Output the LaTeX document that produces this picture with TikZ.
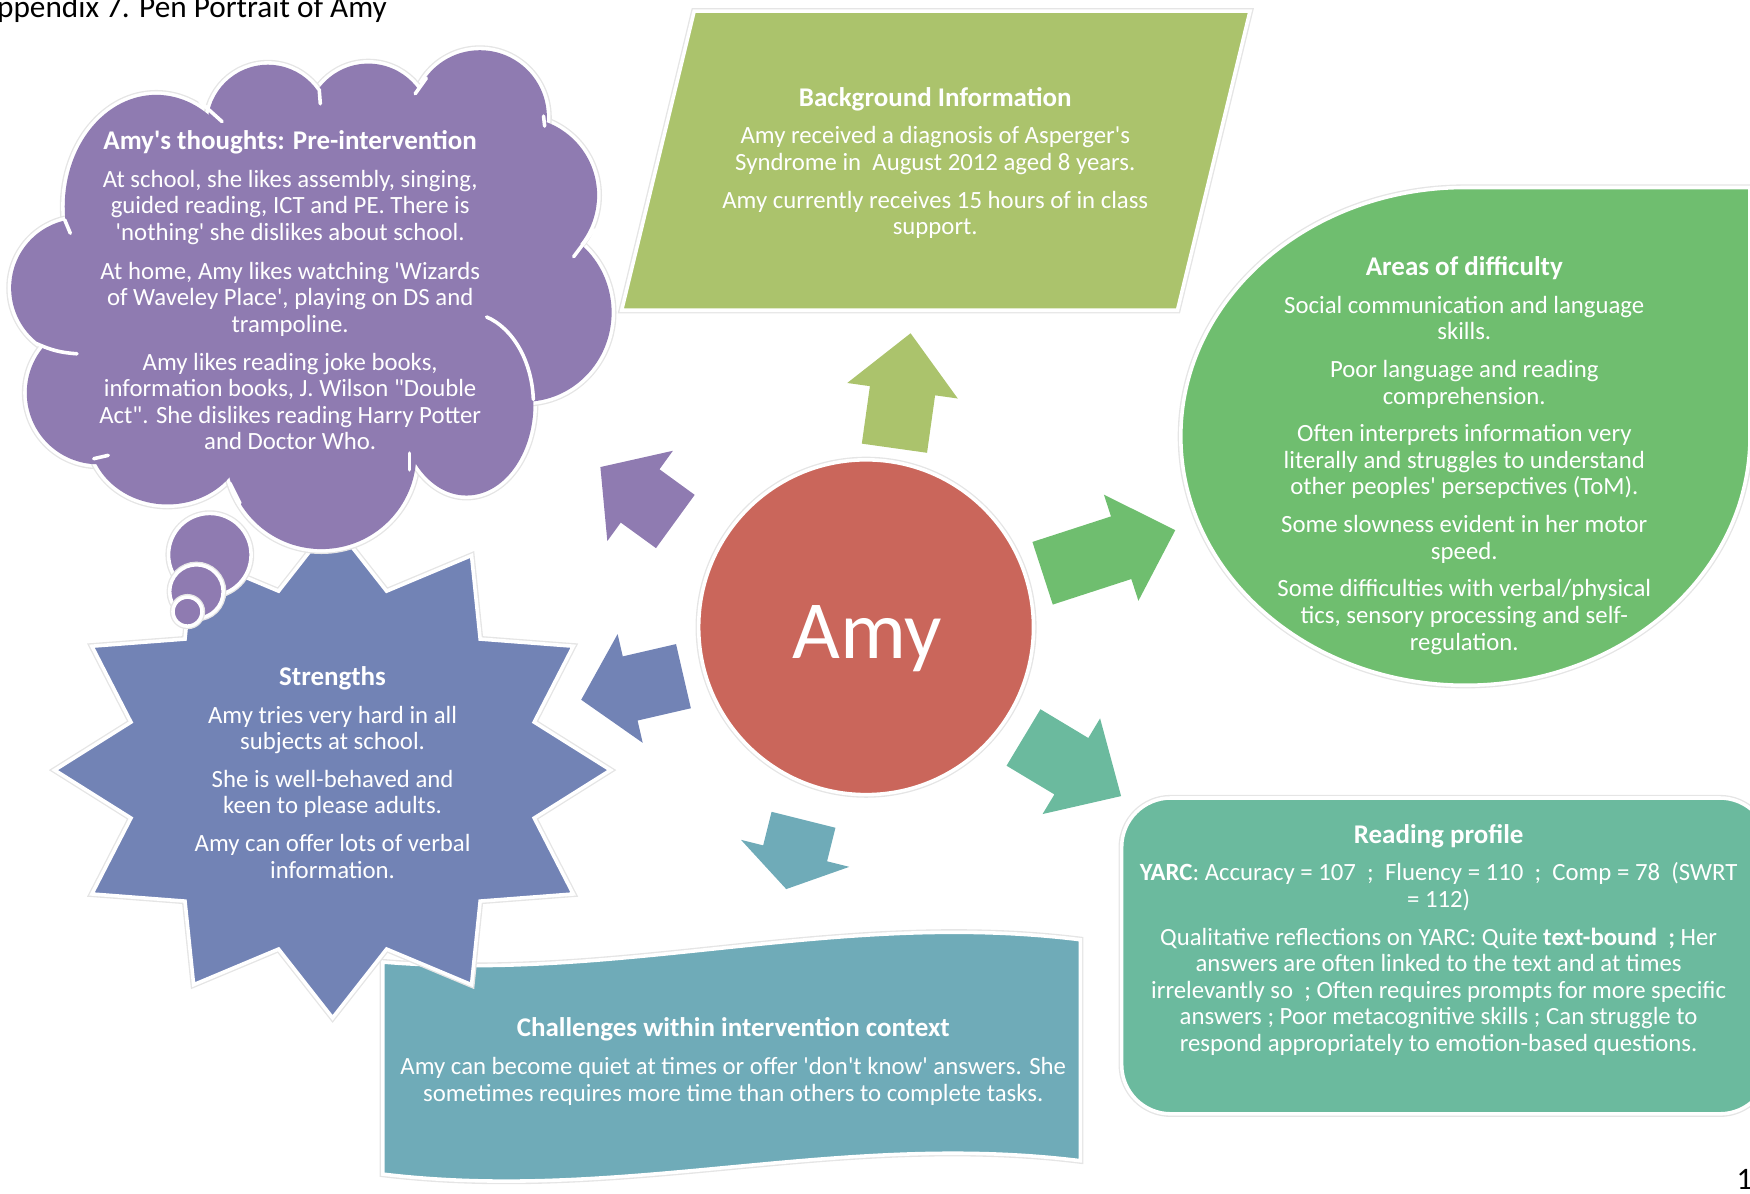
\documentclass[tikz,border=0pt]{standalone}
\usepackage{fontspec}
\setmainfont{Carlito}[Ligatures=TeXOff]
\usetikzlibrary{calc}

\definecolor{thoughtpurple}{HTML}{8F7BB1}
\definecolor{strengthblue}{HTML}{7283B5}
\definecolor{bgolive}{HTML}{ABC36C}
\definecolor{diffgreen}{HTML}{6FBE6F}
\definecolor{readteal}{HTML}{6BBA9E}
\definecolor{challteal}{HTML}{6FABB8}
\definecolor{amyred}{HTML}{CA665B}

\tikzset{
    outline/.style={preaction={draw=black!10, line width=2.8pt}, draw=white, line width=1.6pt},
    infotext/.style={text=white, align=center, inner sep=0pt, font=\fontsize{11.1}{11.9}\selectfont},
    crease/.style={draw=white, line width=1.6pt, line cap=round},
}
\newcommand{\boxtitle}[1]{{\fontsize{12.1}{11.9}\selectfont\bfseries #1}}
% cloud lobes: centre x / centre y / x radius / y radius
\newcommand{\thoughtlobes}{140/185/82/100, 72/258/62/62, 88/352/64/64, 150/390/70/62,
    288/407/85/85, 418/362/60/82, 470/280/78/80, 465/175/70/70, 430/105/60/60,
    330/112/55/55, 240/112/54/54}

\begin{document}
\begin{tikzpicture}[x=0.5pt, y=-0.5pt]
        \useasboundingbox (0,0) rectangle (1568,1069);
        \clip (0,0) rectangle (1568,1069);
        % Background information
        \draw[fill=bgolive, outline] (622,10) -- (1120,10) -- (1055,278) -- (557,278) -- cycle;
        % Areas of difficulty
        \draw[fill=diffgreen, outline] (1312,168) -- (1568,168) -- (1568,391)
            arc[start angle=0, end angle=270, x radius=255, y radius=223] -- cycle;
        % Reading profile
        \node[rectangle, rounded corners=22pt, fill=readteal, outline, minimum width=290pt, minimum height=141.5pt] (reading) at (1295,856.5) {};
        % Challenges
        \draw[fill=challteal, outline] (343,862) .. controls (560,880) and (750,815) .. (968,842) -- (968,1040)
            .. controls (750,1013) and (560,1078) .. (343,1052) -- cycle;
        % Strengths
        \draw[fill=strengthblue, outline] plot[samples at={0,15,...,345}]
            ({298+(249-62*mod(\x/15,2))*cos(\x)}, {690+(222-56*mod(\x/15,2))*sin(\x)}) -- cycle;
        % Thoughts: outline of the lobes first, then fill them
        \foreach \cx/\cy/\rx/\ry in \thoughtlobes {
            \draw[preaction={draw=black!10, line width=4.4pt}, draw=white, line width=3.2pt]
                (\cx,\cy) ellipse[x radius=\rx, y radius=\ry];
        }
        \foreach \cx/\cy/\rx/\ry in \thoughtlobes {
            \fill[thoughtpurple] (\cx,\cy) ellipse[x radius=\rx, y radius=\ry];
        }
        \fill[thoughtpurple] (195,116) -- (287,100) -- (369,94) -- (477,116) -- (520,212) -- (465,352)
            -- (362,400) -- (213,426) -- (94,403) -- (45,307) -- (70,202) -- cycle;
        \draw[crease] (179,91) -- (199,109);
        \draw[crease] (286,80) -- (287,93);
        \draw[crease] (382,70) -- (372,84);
        \draw[crease] (487,104) -- (488,113);
        \draw[crease] (532,206) -- (514,230);
        \draw[crease] (436,284) arc[start angle=-72.5, end angle=-3, x radius=60, y radius=82];
        \draw[crease] (367,406) -- (367,421);
        \draw[crease] (215,451) -- (206,433);
        \draw[crease] (84,411) -- (97,408);
        \draw[crease] (33,308) to[bend right=10] (69,317);
        \draw[crease] (58,197) -- (63,209);
        \node[circle, inner sep=0pt, minimum size=37pt, fill=thoughtpurple, outline] (bubble1) at (188,497) {};
        \node[circle, inner sep=0pt, minimum size=24pt, fill=thoughtpurple, outline] (bubble2) at (176,530) {};
        \node[circle, inner sep=0pt, minimum size=13pt, fill=thoughtpurple, outline] (bubble3) at (168,548) {};
        % Centre
        \node[circle, inner sep=0pt, minimum size=150pt, fill=amyred, outline] (amy) at (776,562) {};
        \node[anchor=base, inner sep=0pt, text=white, font=\fontsize{37}{37}\selectfont] (amytext) at (777,590) {Amy};
        \foreach \ang/\rad/\dirn/\alen/\hlen/\clr in {
            81/81.2/82/52/26/bgolive,
            17/82.7/18/62.5/25.5/diffgreen,
            -35/86.1/-31/51/26/readteal,
            -108/90.7/-104/32/16.5/challteal,
            -165/84.7/-167/47/22.5/strengthblue,
            151/97.7/144/41.5/22/thoughtpurple} {
            \path (amy.center) ++(\ang:\rad pt) coordinate (tail) ++(\dirn:\alen pt) coordinate (tip);
            \path ($(tip)!\hlen pt!(tail)$) coordinate (neck);
            \fill[\clr] ($(tail)!14.75pt!90:(tip)$) -- ($(neck)!14.75pt!90:(tip)$) -- ($(neck)!25pt!90:(tip)$) -- (tip)
                -- ($(neck)!25pt!-90:(tip)$) -- ($(neck)!14.75pt!-90:(tip)$) -- ($(tail)!14.75pt!-90:(tip)$) -- cycle;
        }
        % Texts
        \node[infotext] (thoughtstext) at (260,260) {\boxtitle{Amy's thoughts: Pre-intervention}\\[5pt]
            At school, she likes assembly, singing,\\ guided reading, ICT and PE. There is\\ 'nothing' she dislikes about school.\\[5.6pt]
            At home, Amy likes watching 'Wizards\\ of Waveley Place', playing on DS and\\ trampoline.\\[5pt]
            Amy likes reading joke books,\\ information books, J. Wilson "Double\\ Act". She dislikes reading Harry Potter\\ and Doctor Who.};
        \node[infotext] (bgtext) at (838,146) {\boxtitle{Background Information}\\[5pt]
            Amy received a diagnosis of Asperger's\\ Syndrome in~ August 2012 aged 8 years.\\[5pt]
            Amy currently receives 15 hours of in class\\ support.};
        \node[infotext] (difftext) at (1312,408) {\boxtitle{Areas of difficulty}\\[5pt]
            Social communication and language\\ skills.\\[5pt]
            Poor language and reading\\ comprehension.\\[5pt]
            Often interprets information very\\ literally and struggles to understand\\ other peoples' persepctives (ToM).\\[5pt]
            Some slowness evident in her motor\\ speed.\\[5pt]
            Some difficulties with verbal/physical\\ tics, sensory processing and self-\\ regulation.};
        \node[infotext] (strengthtext) at (298,692) {\boxtitle{Strengths}\\[5pt]
            Amy tries very hard in all\\ subjects at school.\\[5pt]
            She is well-behaved and\\ keen to please adults.\\[5pt]
            Amy can offer lots of verbal\\ information.};
        \node[infotext] (challtext) at (657,951) {\boxtitle{Challenges within intervention context}\\[5pt]
            Amy can become quiet at times or offer 'don't know' answers. She\\ sometimes requires more time than others to complete tasks.};
        \node[infotext] (readtext) at (1289,842) {\boxtitle{Reading profile}\\[5pt]
            \textbf{YARC}: Accuracy = 107~ ; ~Fluency = 110~ ; ~Comp = 78~ (SWRT\\ = 112)\\[5pt]
            Qualitative reflections on YARC: Quite \textbf{text-bound~ ;} Her\\ answers are often linked to the text and at times\\
            irrelevantly so~ ; Often requires prompts for more specific\\ answers ; Poor metacognitive skills ; Can struggle to\\
            respond appropriately to emotion-based questions.};
        % Page texts
        \node[anchor=base east, inner sep=0pt, font=\fontsize{14}{16}\selectfont] (pagetitle) at (347,16) {Appendix 7. Pen Portrait of Amy};
        \node[anchor=base, inner sep=0pt, font=\fontsize{14}{16}\selectfont] (pagenum) at (1563,1066) {1};
\end{tikzpicture}
\end{document}
